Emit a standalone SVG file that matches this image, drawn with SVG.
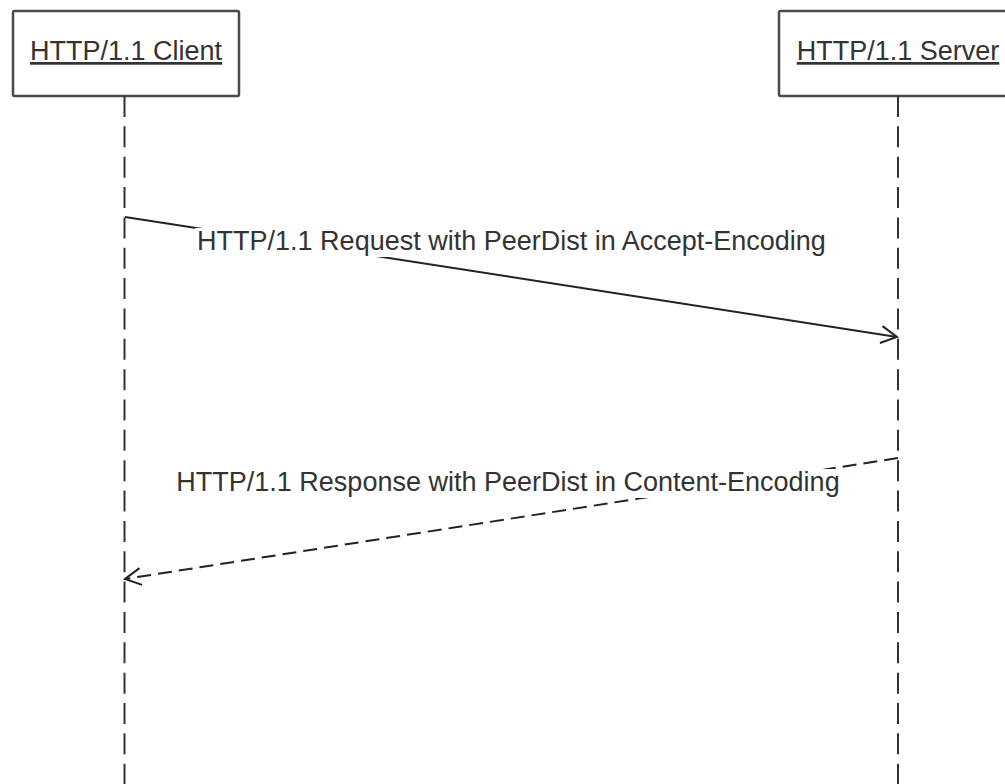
<svg xmlns="http://www.w3.org/2000/svg" width="1005" height="784" viewBox="0 0 1005 784">
  <style>
    .box { fill: #ffffff; stroke: #4a4a4a; stroke-width: 2.5; }
    .life { stroke: #333333; stroke-width: 2; stroke-dasharray: 21 9.35; fill: none; }
    .msg { stroke: #222222; stroke-width: 2; fill: none; }
    .dash { stroke-dasharray: 14 7; }
    .lbl { font-family: "Liberation Sans", Arial, sans-serif; font-size: 27px; fill: #333333; text-anchor: middle; }
    .ul { text-decoration: underline; }
    .bg { fill: #ffffff; stroke: none; }
  </style>
  <defs>
    <marker id="open" markerUnits="userSpaceOnUse" markerWidth="30" markerHeight="30" refX="0" refY="0" orient="auto" overflow="visible">
      <path d="M -16 -8.5 L 0 0 L -16 8.5" fill="none" stroke="#222222" stroke-width="2"/>
    </marker>
  </defs>

  <g id="client">
    <rect class="box" x="13" y="11" width="226" height="85" rx="1.5"/>
    <text class="lbl ul" x="126" y="60">HTTP/1.1 Client</text>
  </g>

  <g id="server">
    <rect class="box" x="779" y="11" width="240" height="85" rx="1.5"/>
    <text class="lbl ul" x="898" y="60">HTTP/1.1 Server</text>
  </g>

  <g id="connectors">
    <line class="life" x1="124.5" y1="96" x2="124.5" y2="784"/>
    <line class="life" x1="898" y1="96" x2="898" y2="784"/>

    <g id="request">
      <line class="msg" x1="125" y1="217" x2="897" y2="337" marker-end="url(#open)"/>
      <rect class="bg" x="195" y="228" width="631" height="29"/>
      <text class="lbl" x="511.5" y="250">HTTP/1.1 Request with PeerDist in Accept-Encoding</text>
    </g>

    <g id="response">
      <line class="msg dash" x1="898" y1="458" x2="125" y2="579" marker-end="url(#open)"/>
      <rect class="bg" x="175" y="469" width="667" height="29"/>
      <text class="lbl" x="508" y="491">HTTP/1.1 Response with PeerDist in Content-Encoding</text>
    </g>
  </g>
</svg>
